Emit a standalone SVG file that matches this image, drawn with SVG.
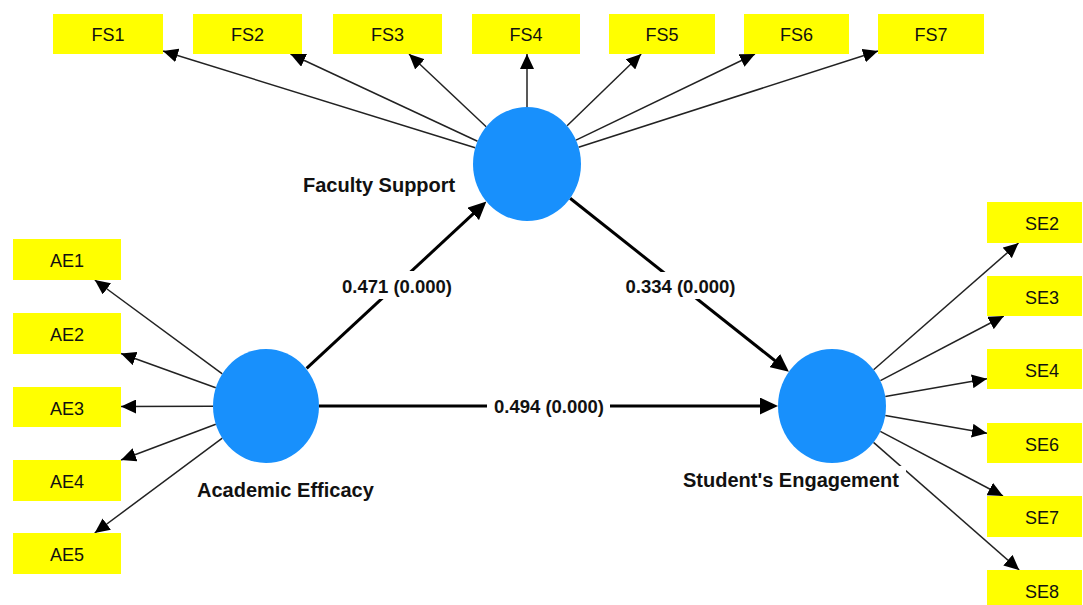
<svg xmlns="http://www.w3.org/2000/svg" width="1083" height="605" viewBox="0 0 1083 605">
<style>
.box{fill:#ffff00}
.lv{fill:#1890fc}
.bt{font-family:"Liberation Sans",Arial,sans-serif;font-size:18px;fill:#111;text-anchor:middle}
.nl{font-family:"Liberation Sans",Arial,sans-serif;font-size:20px;font-weight:bold;fill:#111}
.pl{font-family:"Liberation Sans",Arial,sans-serif;font-size:18.5px;font-weight:bold;fill:#111;text-anchor:middle}
.ind{stroke:#222;stroke-width:1.5;fill:none;marker-end:url(#ah)}
.str{stroke:#000;stroke-width:3;fill:none;marker-end:url(#ahb)}
.bg{fill:#fff}
</style>
<defs>
<marker id="ah" markerWidth="15" markerHeight="14" refX="15" refY="7" orient="auto" markerUnits="userSpaceOnUse"><path d="M0,0 L15,7 L0,14 z" fill="#000"/></marker>
<marker id="ahb" markerWidth="18" markerHeight="17" refX="12" refY="8.5" orient="auto" markerUnits="userSpaceOnUse"><path d="M0,0 L18,8.5 L0,17 z" fill="#000"/></marker>
</defs>
<rect width="1083" height="605" fill="#fff"/>
<g id="connectors">
<line class="ind" x1="475.2" y1="147.8" x2="163" y2="51"/>
<line class="ind" x1="477.5" y1="141.2" x2="290.5" y2="54"/>
<line class="ind" x1="486.2" y1="126.7" x2="409" y2="54"/>
<line class="ind" x1="527" y1="107" x2="527" y2="54"/>
<line class="ind" x1="567.1" y1="125.7" x2="641.2" y2="54"/>
<line class="ind" x1="576" y1="140.1" x2="755" y2="54"/>
<line class="ind" x1="578.6" y1="147.2" x2="878" y2="51"/>
<line class="ind" x1="222.3" y1="373.8" x2="94.8" y2="280"/>
<line class="ind" x1="215.8" y1="387.7" x2="121" y2="353.5"/>
<line class="ind" x1="213" y1="406.2" x2="121" y2="406.6"/>
<line class="ind" x1="215.8" y1="424.3" x2="121" y2="460"/>
<line class="ind" x1="222.3" y1="438.2" x2="94.7" y2="533"/>
<line class="ind" x1="873.6" y1="369.7" x2="1018.5" y2="243"/>
<line class="ind" x1="880.4" y1="380.7" x2="1003.8" y2="316"/>
<line class="ind" x1="885.3" y1="396.6" x2="987" y2="378.7"/>
<line class="ind" x1="885.3" y1="415.4" x2="987" y2="433.3"/>
<line class="ind" x1="880.3" y1="431.4" x2="1003" y2="496"/>
<line class="ind" x1="873.5" y1="442.4" x2="1019.2" y2="570"/>
<line class="str" x1="306.6" y1="368.4" x2="482" y2="205.7"/>
<line class="str" x1="570.1" y1="198.3" x2="784.2" y2="368"/>
<line class="str" x1="319" y1="406" x2="772" y2="406"/>
<rect class="bg" x="338" y="271" width="118" height="28"/>
<text class="pl" x="397" y="293">0.471 (0.000)</text>
<rect class="bg" x="621" y="272" width="119" height="27"/>
<text class="pl" x="680.5" y="293">0.334 (0.000)</text>
<rect class="bg" x="487" y="394" width="123" height="26"/>
<text class="pl" x="549" y="413">0.494 (0.000)</text>
</g>
<g id="FS1"><rect class="box" x="53" y="14" width="110" height="40"/><text class="bt" x="108" y="41">FS1</text></g>
<g id="FS2"><rect class="box" x="193" y="14" width="109" height="40"/><text class="bt" x="247.5" y="41">FS2</text></g>
<g id="FS3"><rect class="box" x="333" y="14" width="109" height="40"/><text class="bt" x="387.5" y="41">FS3</text></g>
<g id="FS4"><rect class="box" x="472" y="14" width="108" height="40"/><text class="bt" x="526" y="41">FS4</text></g>
<g id="FS5"><rect class="box" x="609" y="14" width="106" height="40"/><text class="bt" x="662" y="41">FS5</text></g>
<g id="FS6"><rect class="box" x="744" y="14" width="105" height="40"/><text class="bt" x="796.5" y="41">FS6</text></g>
<g id="FS7"><rect class="box" x="878" y="14" width="106" height="40"/><text class="bt" x="931" y="41">FS7</text></g>
<g id="AE1"><rect class="box" x="13" y="239" width="108" height="41"/><text class="bt" x="67" y="267">AE1</text></g>
<g id="AE2"><rect class="box" x="13" y="313" width="108" height="41"/><text class="bt" x="67" y="341">AE2</text></g>
<g id="AE3"><rect class="box" x="13" y="387" width="108" height="40"/><text class="bt" x="67" y="414.5">AE3</text></g>
<g id="AE4"><rect class="box" x="13" y="460" width="108" height="41"/><text class="bt" x="67" y="488">AE4</text></g>
<g id="AE5"><rect class="box" x="13" y="533" width="108" height="41"/><text class="bt" x="67" y="561">AE5</text></g>
<g id="SE2"><rect class="box" x="987" y="202" width="95" height="41"/><text class="bt" x="1042" y="230">SE2</text></g>
<g id="SE3"><rect class="box" x="987" y="276" width="95" height="40"/><text class="bt" x="1042" y="303.5">SE3</text></g>
<g id="SE4"><rect class="box" x="987" y="349" width="95" height="40"/><text class="bt" x="1042" y="376.5">SE4</text></g>
<g id="SE6"><rect class="box" x="987" y="423" width="95" height="40"/><text class="bt" x="1042" y="450.5">SE6</text></g>
<g id="SE7"><rect class="box" x="987" y="496" width="95" height="41"/><text class="bt" x="1042" y="524">SE7</text></g>
<g id="SE8"><rect class="box" x="987" y="570" width="95" height="41"/><text class="bt" x="1042" y="598">SE8</text></g>
<g id="FacultySupport"><ellipse class="lv" cx="527" cy="164" rx="54" ry="57"/><text class="nl" x="303" y="192">Faculty Support</text></g>
<g id="AcademicEfficacy"><ellipse class="lv" cx="266" cy="406" rx="53" ry="57"/><text class="nl" x="197" y="497">Academic Efficacy</text></g>
<g id="StudentsEngagement"><ellipse class="lv" cx="832" cy="406" rx="54" ry="57"/><rect class="bg" x="679" y="466" width="227" height="28"/><text class="nl" x="683" y="487">Student's Engagement</text></g>
</svg>
